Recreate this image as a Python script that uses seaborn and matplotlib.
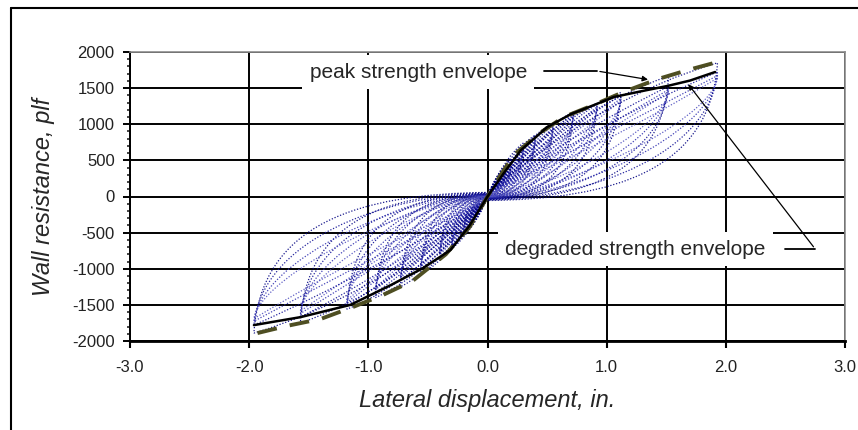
import matplotlib
matplotlib.use("Agg")
import matplotlib.pyplot as plt
from matplotlib.path import Path
from matplotlib.patches import PathPatch
from matplotlib.lines import Line2D
from matplotlib.ticker import MultipleLocator, FormatStrFormatter
import pandas as pd
import seaborn as sns

# envelopes (in., plf)
degraded_x = [-1.96, -1.57, -1.15, -0.81, -0.54, -0.31, -0.15, 0.0, 0.14, 0.28, 0.5, 0.7, 0.9, 1.06, 1.3, 1.51, 1.7, 1.91]
degraded_y = [-1780, -1670, -1500, -1225, -990, -740, -400, 0, 330, 640, 960, 1140, 1270, 1377, 1460, 1530, 1605, 1723]
peak_x = [-1.93, -1.68, -1.4, -1.13, -0.88, -0.63, -0.35, -0.15, 0.0, 0.1, 0.22, 0.44, 0.64, 0.89, 1.14, 1.43, 1.68, 1.9]
peak_y = [-1890, -1790, -1695, -1530, -1365, -1170, -800, -420, 0, 270, 574, 880, 1100, 1266, 1446, 1626, 1750, 1848]

# hysteresis cycles: amplitude, first-cycle peak, repeat-cycle peak
amp_pos = [0.05, 0.1, 0.15, 0.2, 0.3, 0.4, 0.55, 0.72, 0.92, 1.12, 1.52, 1.93]
first_pos = [135, 270, 420, 520, 740, 850, 1020, 1170, 1290, 1440, 1665, 1850]
repeat_pos = [120, 240, 350, 470, 680, 820, 990, 1150, 1280, 1400, 1525, 1725]
amp_neg = [-0.05, -0.1, -0.15, -0.2, -0.3, -0.4, -0.56, -0.73, -0.94, -1.18, -1.57, -1.96]
first_neg = [-140, -280, -420, -540, -720, -850, -1080, -1250, -1400, -1560, -1750, -1890]
repeat_neg = [-130, -265, -400, -500, -720, -800, -1010, -1160, -1330, -1510, -1670, -1780]

sns.set_style("white")
plt.rcParams['font.family'] = ['Liberation Sans', 'DejaVu Sans']
plt.rcParams['axes.unicode_minus'] = False

fig = plt.figure(figsize=(8.58, 4.30), dpi=100)
ax = fig.add_axes([130 / 858, 1 - 341 / 430, 715 / 858, 289 / 430])

codes = [Path.MOVETO, Path.CURVE3, Path.CURVE3, Path.CURVE4, Path.CURVE4, Path.CURVE4]


def half_loop(d, f, bulge, drop, tail, end):
    # reload from the pinch to the peak, then unload back towards zero force
    verts = [(0, 0.02 * f), (0.5 * d, bulge * f), (d, f),
             (0.97 * d, drop * f), (tail * d, -0.02 * f), (0, -end * f)]
    return Path(verts, codes)


# (peak scale, reload bulge, unload drop, unload tail, end offset, colour)
variants = [
    (1.00, 0.75, 0.20, 0.55, 0.03, '#000080'),
    (1.00, 0.60, 0.35, 0.45, 0.02, '#101096'),
    (0.97, 0.50, 0.50, 0.35, 0.01, '#3030b0'),
    (0.95, 0.42, 0.62, 0.25, 0.00, '#5050c0'),
]
for amps, firsts, repeats in [(amp_pos, first_pos, repeat_pos), (amp_neg, first_neg, repeat_neg)]:
    for d, f1, f2 in zip(amps, firsts, repeats):
        for i, (k, bulge, drop, tail, end, col) in enumerate(variants):
            f = f1 if i == 0 else f2 * k
            ax.add_patch(PathPatch(half_loop(d, f, bulge, drop, tail, end), fill=False,
                                   edgecolor=col, lw=0.9, linestyle=(0, (1, 1.4)),
                                   alpha=0.9, zorder=2))

env_peak = pd.DataFrame({"disp": peak_x, "force": peak_y})
env_deg = pd.DataFrame({"disp": degraded_x, "force": degraded_y})
sns.lineplot(data=env_peak, x="disp", y="force", sort=False, estimator=None, ax=ax,
             color='#4e4e22', lw=2.8, linestyle=(0, (5.1, 3.4)), zorder=4)
sns.lineplot(data=env_deg, x="disp", y="force", sort=False, estimator=None, ax=ax,
             color='black', lw=1.8, zorder=5)

ax.set_xlim(-3, 3)
ax.set_ylim(-2000, 2000)
ax.xaxis.set_major_locator(MultipleLocator(1))
ax.xaxis.set_major_formatter(FormatStrFormatter('%.1f'))
ax.yaxis.set_major_locator(MultipleLocator(500))
ax.yaxis.set_minor_locator(MultipleLocator(100))
ax.set_axisbelow(True)
ax.grid(True, which='major', color='black', lw=1.4)

for side in ['top', 'right']:
    ax.spines[side].set_color('#8c8c8c')
    ax.spines[side].set_linewidth(1.2)
ax.spines['left'].set_color('black')
ax.spines['left'].set_linewidth(1.4)
ax.spines['bottom'].set_color('black')
ax.spines['bottom'].set_linewidth(2)
for sp in ax.spines.values():
    sp.set_zorder(6)

ax.tick_params(axis='x', which='major', direction='out', length=5, width=1.5, pad=9,
               labelsize=12, colors='black', labelcolor='#222222', bottom=True)
ax.tick_params(axis='y', which='major', direction='out', length=5, width=1.4, pad=6,
               labelsize=12, colors='black', labelcolor='#222222', left=True)
ax.tick_params(axis='y', which='minor', direction='out', length=2.5, width=1.2, left=True)

ax.set_xlabel('Lateral displacement, in.', fontsize=17, style='italic', labelpad=10)
ax.set_ylabel('Wall resistance, plf', fontsize=17, style='italic', labelpad=12)

box = dict(boxstyle='square,pad=0.35', facecolor='white', edgecolor='none')
ax.text(-0.58, 1723, 'peak strength envelope', fontsize=15, ha='center', va='center', bbox=box, zorder=7)
ax.text(1.24, -727, 'degraded strength envelope', fontsize=15, ha='center', va='center', bbox=box, zorder=7)

# leader lines
ax.plot([0.47, 0.92], [1737, 1737], color='black', lw=1.3, zorder=7)
ax.annotate('', xy=(1.37, 1612), xytext=(0.92, 1737),
            arrowprops=dict(arrowstyle='-|>', color='black', lw=0.9, mutation_scale=8), zorder=7)
ax.plot([2.5, 2.75], [-727, -727], color='black', lw=1.3, zorder=7)
ax.annotate('', xy=(1.67, 1585), xytext=(2.75, -727),
            arrowprops=dict(arrowstyle='-|>', color='black', lw=0.9, mutation_scale=8), zorder=7)

# outer frame
fig.add_artist(Line2D([11 / 858, 1], [1 - 8 / 430] * 2, transform=fig.transFigure, color='black', lw=1.5))
fig.add_artist(Line2D([11 / 858] * 2, [0, 1 - 8 / 430], transform=fig.transFigure, color='black', lw=1.5))

fig.savefig('out.png', dpi=100)
